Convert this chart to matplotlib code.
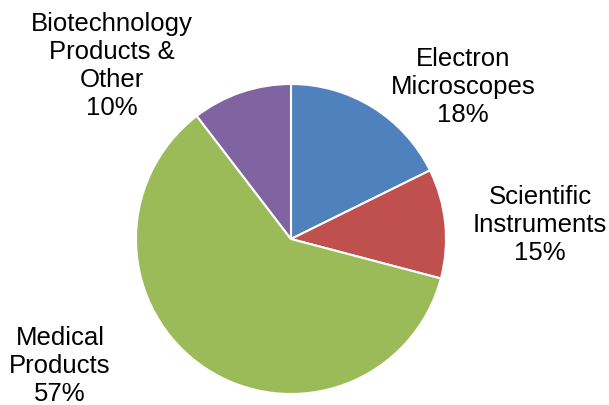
import matplotlib.pyplot as plt

# segment data (wedge sizes, labels as printed)
segments = ["Electron\nMicroscopes", "Scientific\nInstruments", "Medical\nProducts",
            "Biotechnology\nProducts &\nOther"]
shares = [17.7, 11.4, 60.5, 10.4]
pct_labels = ["18%", "15%", "57%", "10%"]
colors = ["#4F81BD", "#C0504D", "#9BBB59", "#8064A2"]

# label anchor points in pixel units (x from left, y from top)
label_pos = [(463, 87), (540, 225), (60, 366), (112, 66)]

plt.rcParams['font.family'] = ['Liberation Sans', 'DejaVu Sans']

fig = plt.figure(figsize=(6.09, 4.06), dpi=100)
ax = fig.add_axes([0, 0, 1, 1])

# pie drawn clockwise from 12 o'clock; y axis is flipped so use counterclock
ax.pie(shares, colors=colors, startangle=-90, counterclock=True,
       center=(291, 240), radius=155, frame=True,
       wedgeprops=dict(edgecolor='white', linewidth=1.5))
ax.set_xlim(0, 609)
ax.set_ylim(406, 0)
ax.set_aspect('equal')
ax.axis('off')

for name, pct, (x, y) in zip(segments, pct_labels, label_pos):
    ax.text(x, y, name + "\n" + pct, ha='center', va='center',
            fontsize=18.5, linespacing=1.2, color='black')

fig.savefig("out.png", dpi=100)
